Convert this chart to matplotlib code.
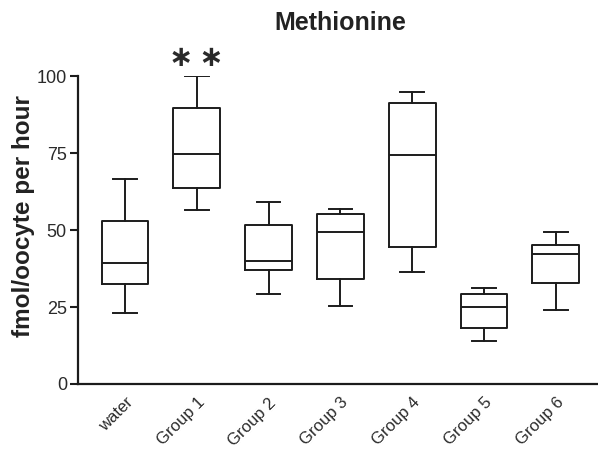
import matplotlib
matplotlib.use("Agg")
import matplotlib.pyplot as plt
from matplotlib import font_manager

# Amino-acid uptake per group (box-and-whisker summary, fmol/oocyte per hour)
groups = ["water", "Group 1", "Group 2", "Group 3", "Group 4", "Group 5", "Group 6"]
whisker_low = [23.2, 56.5, 29.2, 25.3, 36.4, 14.1, 23.9]
q1 = [32.4, 63.5, 36.9, 34.0, 44.4, 18.3, 32.9]
median = [39.4, 74.7, 39.8, 49.4, 74.2, 24.9, 42.1]
q3 = [53.0, 89.5, 51.5, 55.2, 91.1, 29.3, 45.0]
whisker_high = [66.5, 99.9, 59.0, 56.9, 94.9, 31.1, 49.2]
y_ticks = [0, 25, 50, 75, 100]
significance = {"Group 1": "\u2217\u2009\u2217"}

installed = {f.name for f in font_manager.fontManager.ttflist}
narrow = "Liberation Sans Narrow" if "Liberation Sans Narrow" in installed else "Liberation Sans"
plt.rcParams["font.family"] = ["Liberation Sans", "DejaVu Sans"]

ink = "#1c1c1c"
W, H = 598, 461
fig = plt.figure(figsize=(W / 100, H / 100), dpi=100)
ax = fig.add_axes([78 / W, 1 - 384 / H, (W - 78) / W, (384 - 76) / H])

positions = list(range(1, len(groups) + 1))
stats = [
    dict(med=m, q1=a, q3=b, whislo=lo, whishi=hi, fliers=[], label=g)
    for g, lo, a, m, b, hi in zip(groups, whisker_low, q1, median, q3, whisker_high)
]
line = dict(color=ink, linewidth=1.4)
ax.bxp(stats, positions=positions, widths=0.65, capwidths=0.33,
       showfliers=False, boxprops=line, medianprops=line,
       whiskerprops=line, capprops=line)

ax.set_xlim(1 - 47 / 71.8, 1 - 47 / 71.8 + 520 / 71.8)
ax.set_ylim(0, 100)
ax.set_yticks(y_ticks)
ax.set_yticklabels([str(t) for t in y_ticks], family=narrow, fontsize=13, color="#2a2a2a")
ax.set_xticks(positions)
ax.set_xticklabels(groups, rotation=45, ha="right", rotation_mode="anchor",
                   family=narrow, fontsize=12, color="#2a2a2a")
ax.tick_params(axis="x", length=0, pad=8)
ax.tick_params(axis="y", length=6, width=1.5, color=ink, pad=2)

for side in ("top", "right"):
    ax.spines[side].set_visible(False)
for side in ("left", "bottom"):
    ax.spines[side].set_linewidth(1.6)
    ax.spines[side].set_color(ink)

for g, mark in significance.items():
    i = groups.index(g)
    ax.text(positions[i], whisker_high[i] + 6, mark, ha="center", va="center",
            fontsize=21, fontweight="bold", color="#2a2a2a", family="DejaVu Sans",
            clip_on=False)

fig.text(340 / W, 1 - 23 / H, "Methionine", ha="center", va="center",
         fontsize=18, fontweight="bold", color="#222222")
fig.text(24 / W, 1 - 216 / H, "fmol/oocyte per hour", ha="center", va="center",
         rotation=90, fontsize=17.5, fontweight="bold", color="#222222")

fig.savefig("out.png", dpi=100)
